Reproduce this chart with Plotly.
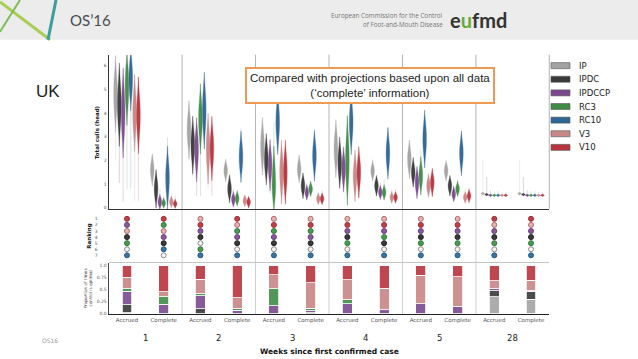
import plotly.graph_objects as go

W, H = 638, 359

# ---------------- data ----------------
series = ["IP", "IPDC", "IPDCCP", "RC3", "RC10", "V3", "V10"]
colors = ["#a3a3a3", "#3a3a3a", "#7b4a8e", "#3f8c47", "#2f6694", "#c98686", "#b8343e"]
weeks = ["1", "2", "3", "4", "5", "28"]
info = ["Accrued", "Complete"]

# violin summaries per position (W1A, W1C, W2A, W2C, ... W28A, W28C): (lo, q1, median, q3, hi)
IP_stats = [(2.0, 4.2, 4.8, 5.4, 6.1), (1.1, 1.35, 1.6, 1.85, 2.2),
            (2.0, 2.85, 3.3, 3.75, 4.0), (1.2, 1.4, 1.57, 1.75, 1.9),
            (1.75, 2.15, 2.6, 3.05, 3.5), (1.2, 1.42, 1.63, 1.85, 2.2),
            (1.6, 2.05, 2.5, 2.95, 3.4), (1.2, 1.4, 1.56, 1.72, 2.05),
            (1.5, 1.75, 2.05, 2.35, 2.75), (1.2, 1.4, 1.56, 1.72, 1.9),
            (0.5, 0.58, 0.6, 0.62, 2.0), (0.5, 0.58, 0.6, 0.62, 2.0)]
IPDC_stats = [(1.05, 3.7, 4.35, 5.0, 5.85), (0.3, 0.5, 0.8, 1.1, 1.5),
              (1.35, 2.2, 2.65, 3.1, 3.3), (0.4, 0.58, 0.8, 1.02, 1.35),
              (1.2, 1.65, 2.05, 2.45, 2.9), (0.5, 0.73, 0.93, 1.13, 1.35),
              (0.93, 1.5, 1.9, 2.3, 2.45), (0.5, 0.77, 0.93, 1.09, 1.2),
              (0.93, 1.27, 1.5, 1.73, 1.9), (0.55, 0.77, 0.93, 1.09, 1.2),
              (0.5, 0.54, 0.56, 0.58, 1.3), (0.5, 0.54, 0.56, 0.58, 1.3)]
IPDCCP_stats = [(0.25, 3.3, 4.0, 4.7, 5.6), (0.05, 0.13, 0.25, 0.37, 0.8),
                (0.5, 1.95, 2.45, 2.95, 3.1), (0.1, 0.24, 0.36, 0.48, 0.8),
                (0.6, 1.4, 1.8, 2.2, 2.6), (0.38, 0.53, 0.65, 0.77, 1.05),
                (0.65, 1.28, 1.63, 1.98, 2.2), (0.4, 0.54, 0.65, 0.76, 1.05),
                (0.5, 0.82, 1.07, 1.32, 1.63), (0.35, 0.46, 0.58, 0.7, 0.93),
                (0.45, 0.51, 0.53, 0.55, 0.75), (0.45, 0.51, 0.53, 0.55, 0.75)]
RC3_stats = [(0.8, 4.5, 5.1, 5.7, 6.05), (0.05, 0.12, 0.2, 0.28, 0.5),
             (0.5, 3.2, 3.75, 4.3, 4.55), (0.15, 0.28, 0.4, 0.52, 0.65),
             (0.35, 0.65, 1.0, 1.7, 3.6), (0.5, 0.68, 0.8, 0.92, 1.0),
             (0.65, 1.3, 2.0, 2.7, 3.85), (0.4, 0.53, 0.65, 0.77, 1.2),
             (0.65, 1.05, 1.35, 1.65, 2.45), (0.5, 0.68, 0.8, 0.92, 1.2),
             (0.45, 0.51, 0.53, 0.55, 0.7), (0.45, 0.51, 0.53, 0.55, 0.7)]
RC10_stats = [(0.85, 4.95, 5.45, 5.95, 6.35), (0.45, 0.75, 1.25, 1.75, 2.95),
              (2.7, 3.5, 4.1, 4.7, 5.25), (1.5, 1.75, 2.15, 2.55, 3.35),
              (2.4, 3.1, 3.6, 4.1, 4.4), (1.35, 1.8, 2.2, 2.6, 3.2),
              (2.6, 3.1, 3.6, 4.1, 4.5), (1.35, 1.9, 2.3, 2.7, 3.4),
              (2.0, 2.45, 2.9, 3.35, 3.9), (1.5, 1.95, 2.3, 2.65, 3.15),
              (0.45, 0.51, 0.53, 0.55, 0.7), (0.45, 0.51, 0.53, 0.55, 0.7)]
V3_stats = [(0.3, 3.4, 4.0, 4.6, 5.65), (0.1, 0.16, 0.25, 0.34, 0.58),
            (0.8, 1.95, 2.5, 3.05, 3.7), (0.1, 0.21, 0.3, 0.39, 0.5),
            (0.38, 1.0, 1.5, 2.0, 2.6), (0.17, 0.29, 0.38, 0.47, 0.65),
            (0.5, 0.95, 1.35, 1.75, 2.2), (0.2, 0.35, 0.44, 0.53, 0.8),
            (0.5, 0.75, 0.93, 1.11, 1.5), (0.2, 0.35, 0.44, 0.53, 0.8),
            (0.45, 0.51, 0.53, 0.55, 0.65), (0.45, 0.51, 0.53, 0.55, 0.65)]
V10_stats = [(0.3, 3.3, 3.9, 4.5, 5.5), (0.05, 0.1, 0.17, 0.24, 0.5),
             (0.5, 2.0, 2.5, 3.0, 3.45), (0.05, 0.15, 0.24, 0.33, 0.44),
             (0.24, 1.0, 1.5, 2.0, 2.45), (0.15, 0.29, 0.38, 0.47, 0.72),
             (0.45, 1.1, 1.5, 1.9, 2.2), (0.2, 0.35, 0.44, 0.53, 0.8),
             (0.5, 0.85, 1.07, 1.29, 1.63), (0.2, 0.4, 0.5, 0.6, 0.86),
             (0.45, 0.51, 0.53, 0.55, 0.65), (0.45, 0.51, 0.53, 0.55, 0.65)]
violin_stats = [IP_stats, IPDC_stats, IPDCCP_stats, RC3_stats, RC10_stats, V3_stats, V10_stats]

# ranking (top = 1 to bottom = 7) per position
ranking_order = [
    ["V10", "IPDCCP", "V3", "IPDC", "RC3", "IP", "RC10"],
    ["V10", "RC3", "V3", "IPDCCP", "IPDC", "RC10", "IP"],
    ["V3", "V10", "IPDCCP", "IPDC", "IP", "RC3", "RC10"],
    ["V10", "V3", "RC3", "IPDCCP", "IPDC", "IP", "RC10"],
    ["V3", "V10", "RC3", "IPDCCP", "IPDC", "IP", "RC10"],
    ["V3", "V10", "RC3", "IPDCCP", "IPDC", "IP", "RC10"],
    ["V3", "V10", "IPDCCP", "IPDC", "RC3", "IP", "RC10"],
    ["V3", "V10", "IPDCCP", "RC3", "IPDC", "IP", "RC10"],
    ["V3", "V10", "IPDCCP", "IPDC", "RC3", "IP", "RC10"],
    ["V3", "V10", "IPDCCP", "IPDC", "RC3", "IP", "RC10"],
    ["V10", "V3", "IPDCCP", "IPDC", "RC3", "IP", "RC10"],
    ["V10", "V3", "IPDCCP", "IPDC", "RC3", "IP", "RC10"],
]

# proportion of times control is optimal
IP_prop = [0.02, 0, 0, 0, 0, 0, 0, 0, 0, 0, 0.35, 0.30]
IPDC_prop = [0.16, 0, 0.10, 0, 0, 0.02, 0, 0, 0, 0, 0.13, 0.17]
IPDCCP_prop = [0.29, 0.19, 0.27, 0.07, 0.16, 0.04, 0.20, 0.08, 0.21, 0.15, 0.04, 0.01]
RC3_prop = [0.05, 0.16, 0.04, 0.03, 0.36, 0.05, 0.09, 0, 0, 0, 0, 0]
RC10_prop = [0, 0, 0, 0, 0, 0, 0, 0, 0, 0, 0, 0]
V3_prop = [0.24, 0.11, 0.31, 0.23, 0.29, 0.54, 0.42, 0.45, 0.59, 0.62, 0.17, 0.22]
V10_prop = [0.24, 0.54, 0.28, 0.67, 0.19, 0.35, 0.29, 0.47, 0.20, 0.23, 0.31, 0.30]
props = [IP_prop, IPDC_prop, IPDCCP_prop, RC3_prop, RC10_prop, V3_prop, V10_prop]

# ---------------- helpers (layout only) ----------------
def px(x):
    return x / W

def py(y):
    return 1 - y / H

FONT = "DejaVu Sans"
n_pos = len(weeks) * len(info)
positions = list(range(n_pos))
tick_text = [lab for _ in weeks for lab in info]

fig = go.Figure()

# ---------------- violins (one trace per violin so each gets its own width scaling) ----------------
step = 0.104
for j, (name, col, stats) in enumerate(zip(series, colors, violin_stats)):
    off = (j - 3) * step
    fig.add_trace(go.Scatter(
        x=[i + off for i in positions], y=[s[2] for s in stats], mode="markers",
        marker=dict(size=1, color=col, opacity=0),
        error_y=dict(type="data", symmetric=False,
                     array=[s[4] - s[2] for s in stats],
                     arrayminus=[s[2] - s[0] for s in stats],
                     thickness=0.5, width=0, color=col),
        xaxis="x3", yaxis="y3", showlegend=False, hoverinfo="skip", opacity=0.4))
    for i, s in enumerate(stats):
        fig.add_trace(go.Violin(
            x=[i + off] * 3, y=[s[1], s[2], s[3]], name=name, width=0.1,
            spanmode="soft", scalemode="width",
            fillcolor=col, line=dict(color=col, width=0.3), opacity=0.95,
            points=False, box_visible=False, meanline_visible=False,
            xaxis="x3", yaxis="y3", showlegend=False, hoverinfo="skip"))

# ---------------- ranking dots ----------------
dot_fill = ["#f4f4f4", "#3a3a3a", "#8a5a9c", "#4c9a52", "#3a74a3", "#e4b3b3", "#c0404a"]
dot_edge = ["#8c8c8c", "#222222", "#6a3a7c", "#2f7a37", "#245885", "#b06a6a", "#a02a33"]
for j, name in enumerate(series):
    ranks = [order.index(name) + 1 for order in ranking_order]
    fig.add_trace(go.Scatter(
        x=positions, y=ranks, mode="markers",
        marker=dict(size=5, color=dot_fill[j], line=dict(color=dot_edge[j], width=1)),
        xaxis="x2", yaxis="y2", showlegend=False, hoverinfo="skip"))

# ---------------- stacked bars ----------------
for j, name in enumerate(series):
    fig.add_trace(go.Bar(
        x=positions, y=props[j], width=0.27, name=name,
        marker=dict(color=colors[j], line=dict(color="white", width=0.8)),
        opacity=0.9, xaxis="x", yaxis="y", showlegend=False, hoverinfo="skip"))

# ---------------- axes ----------------
xdom = [px(108.6), px(549.4)]
xr = [-0.5, n_pos - 0.5]
tickfont = dict(family=FONT, size=4.5, color="#555")
fig.update_layout(
    width=W, height=H, margin=dict(l=0, r=0, t=0, b=0),
    paper_bgcolor="white", plot_bgcolor="rgba(0,0,0,0)",
    barmode="stack", violinmode="overlay", showlegend=False,
    xaxis=dict(domain=xdom, range=xr, anchor="y", tickvals=positions, ticktext=tick_text,
               tickfont=dict(family=FONT, size=5.5, color="#555"), ticks="",
               showline=True, linecolor="#222", linewidth=1.3, showgrid=False, zeroline=False),
    xaxis2=dict(domain=xdom, range=xr, anchor="y2", matches="x", showticklabels=False,
                showline=True, linecolor="#c4c4c4", linewidth=1, showgrid=False, zeroline=False),
    xaxis3=dict(domain=xdom, range=xr, anchor="y3", matches="x", showticklabels=False,
                showline=True, linecolor="#333", linewidth=1.2, showgrid=False, zeroline=False),
    yaxis=dict(domain=[py(316), py(264)], range=[-0.015, 1.07],
               tickvals=[0, 0.25, 0.5, 0.75, 1.0], ticktext=["0.0", "0.25", "0.5", "0.75", "1.0"],
               tickfont=tickfont, ticks="", showline=True, linecolor="#444", linewidth=1,
               showgrid=False, zeroline=False),
    yaxis2=dict(domain=[py(263.5), py(211)], range=[8.1, -0.48],
                tickvals=list(range(1, 8)), tickfont=tickfont, ticks="outside", ticklen=9,
                tickcolor="rgba(0,0,0,0)",
                showline=False, showgrid=False, zeroline=False),
    yaxis3=dict(domain=[py(210.2), py(55.3)], range=[-0.05, 6.45],
                tickvals=list(range(0, 7)), tickfont=tickfont, ticks="",
                showline=True, linecolor="#333", linewidth=1, showgrid=False, zeroline=False),
)

shapes = []
# header band
shapes.append(dict(type="rect", xref="paper", yref="paper", x0=0, x1=1, y0=py(40), y1=1,
                   fillcolor="#ececec", line=dict(width=0), layer="below"))
shapes.append(dict(type="line", xref="paper", yref="paper", x0=px(0), y0=py(2), x1=px(50), y1=py(40),
                   line=dict(color="#a9cc55", width=3)))
shapes.append(dict(type="line", xref="paper", yref="paper", x0=px(0), y0=py(32), x1=px(20), y1=py(0),
                   line=dict(color="#7dbb5a", width=2)))
shapes.append(dict(type="line", xref="paper", yref="paper", x0=px(56), y0=py(0), x1=px(48), y1=py(40),
                   line=dict(color="#3a9e9c", width=3)))
# week separators
for k in range(1, len(weeks)):
    xs_ = 2 * k - 0.5
    shapes.append(dict(type="line", xref="x", yref="paper", x0=xs_, x1=xs_, y0=py(316), y1=py(210),
                       line=dict(color="#d0d0d0", width=1), layer="below"))
    shapes.append(dict(type="line", xref="x", yref="paper", x0=xs_, x1=xs_, y0=py(210), y1=py(55),
                       line=dict(color="#b4b4b4", width=1), layer="below"))
# right border of violin panel
shapes.append(dict(type="line", xref="x", yref="paper", x0=xr[1], x1=xr[1], y0=py(210), y1=py(55),
                   line=dict(color="#555", width=1)))

annotations = []
# custom legend
for j, name in enumerate(series):
    yy = 66 + j * 13.7
    shapes.append(dict(type="rect", xref="paper", yref="paper", x0=px(551), x1=px(570),
                       y0=py(yy + 3), y1=py(yy - 3), fillcolor=colors[j],
                       line=dict(color="#555", width=0.6)))
    annotations.append(dict(x=px(577), y=py(yy), xref="paper", yref="paper", text=name,
                            showarrow=False, xanchor="left", yanchor="middle",
                            font=dict(family=FONT, size=8.5, color="#222")))

# week labels
for k, wk in enumerate(weeks):
    annotations.append(dict(x=2 * k + 0.5, y=py(340), xref="x", yref="paper", text=wk,
                            showarrow=False, xanchor="center", yanchor="middle",
                            font=dict(family=FONT, size=8.5, color="#222")))
annotations += [
    dict(x=px(329), y=py(353), xref="paper", yref="paper", text="<b>Weeks since first confirmed case</b>",
         showarrow=False, xanchor="center", yanchor="middle", font=dict(family=FONT, size=7.5, color="#111")),
    dict(x=px(97), y=py(133), xref="paper", yref="paper", text="<b>Total culls (head)</b>",
         textangle=-90, showarrow=False, xanchor="center", yanchor="middle",
         font=dict(family=FONT, size=5.5, color="#222")),
    dict(x=px(90), y=py(237), xref="paper", yref="paper", text="<b>Ranking</b>",
         textangle=-90, showarrow=False, xanchor="center", yanchor="middle",
         font=dict(family=FONT, size=5.5, color="#222")),
    dict(x=px(88), y=py(290), xref="paper", yref="paper", text="Proportion of times<br>control is optimal",
         textangle=-90, showarrow=False, xanchor="center", yanchor="middle",
         font=dict(family=FONT, size=4.2, color="#333")),
    dict(x=px(370), y=py(86), xref="paper", yref="paper",
         text="Compared with projections based upon all data<br>(‘complete’ information)",
         showarrow=False, xanchor="center", yanchor="middle", bgcolor="white",
         bordercolor="#ef9a52", borderwidth=2, borderpad=3,
         font=dict(family="Liberation Sans", size=11.5, color="#222")),
    dict(x=px(34), y=py(92), xref="paper", yref="paper", text="UK", showarrow=False,
         xanchor="left", yanchor="middle", font=dict(family="Liberation Sans", size=17, color="#222")),
    dict(x=px(68), y=py(20), xref="paper", yref="paper", text="OS’16", showarrow=False,
         xanchor="left", yanchor="middle", font=dict(family="Lato", size=15, color="#4a4a4a")),
    dict(x=px(445), y=py(16), xref="paper", yref="paper", text="European Commission for the Control",
         showarrow=False, xanchor="right", yanchor="middle", font=dict(family="Open Sans", size=6.3, color="#777")),
    dict(x=px(445), y=py(25), xref="paper", yref="paper", text="of Foot-and-Mouth Disease",
         showarrow=False, xanchor="right", yanchor="middle", font=dict(family="Open Sans", size=6.3, color="#777")),
    dict(x=px(448), y=py(20), xref="paper", yref="paper",
         text="<b>e<span style='color:#6aaa3a'>u</span>fmd</b>", showarrow=False,
         xanchor="left", yanchor="middle", font=dict(family="Lato", size=20, color="#333")),
    dict(x=px(40), y=py(342), xref="paper", yref="paper", text="OS16", showarrow=False,
         xanchor="left", yanchor="middle", font=dict(family=FONT, size=6, color="#999")),
]
fig.update_layout(shapes=shapes, annotations=annotations)

fig.write_html("out.html", config={"displayModeBar": False},
               post_script="document.body.style.margin='0';document.body.style.overflow='hidden';")
